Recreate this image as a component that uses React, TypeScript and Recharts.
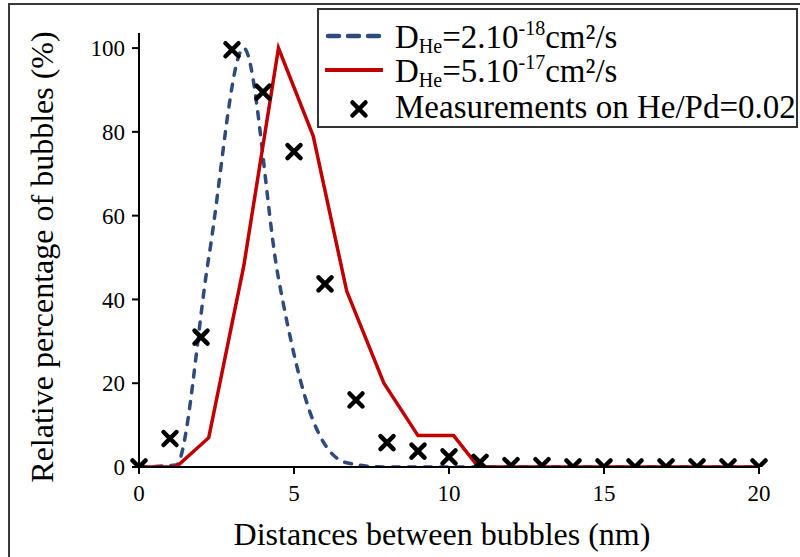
import { ComposedChart, Line, Scatter, XAxis, YAxis, Label } from "recharts"

// model curves are sampled on the same x grid
const modelX = [0, 1.2, 2.25, 3.38, 4.5, 5.62, 6.7, 7.9, 9.0, 10.15, 10.95, 20]
const slowDiff = [0, 0.5, 50, 100, 45, 11, 1, 0, 0, 0, 0, 0]
const fastDiff = [0, 0, 7, 48, 100, 79, 42, 20, 7.5, 7.5, 0, 0]

const measX = [0, 1, 2, 3, 4, 5, 6, 7, 8, 9, 10, 11, 12, 13, 14, 15, 16, 17, 18, 19, 20]
const measured = [0, 6.8, 31, 99.6, 89.5, 75.3, 43.7, 16, 5.8, 3.8, 2.4, 1.1, 0.3, 0.3, 0, 0, 0, 0, 0, 0, 0]

const xTicks = [0, 5, 10, 15, 20]
const yTicks = [0, 20, 40, 60, 80, 100]

const slowData = modelX.map((x, i) => ({ x, y: slowDiff[i] }))
const fastData = modelX.map((x, i) => ({ x, y: fastDiff[i] }))
const measData = measX.map((x, i) => ({ x, y: measured[i] }))

const BLUE = "#2f4b7c"
const RED = "#c00000"
const FONT = "Liberation Serif, DejaVu Serif, serif"

const Cross = (props: any) => {
    const { cx, cy } = props
    const s = 6.5
    return (
        <g stroke="#000" strokeWidth={4.5} strokeLinecap="round">
            <line x1={cx - s} y1={cy - s} x2={cx + s} y2={cy + s} />
            <line x1={cx - s} y1={cy + s} x2={cx + s} y2={cy - s} />
        </g>
    )
}

const XTick = (props: any) => {
    const { x, y, payload } = props
    return (
        <text x={x} y={y} dy="0.71em" textAnchor="middle" fill="#000" style={{ fontSize: 23, fontFamily: FONT }}>
            {payload.value}
        </text>
    )
}

const YTick = (props: any) => {
    const { x, y, payload } = props
    return (
        <text x={x} y={y} dy="0.355em" textAnchor="end" fill="#000" style={{ fontSize: 23, fontFamily: FONT }}>
            {payload.value}
        </text>
    )
}

const YTitle = () => (
    <text x={53} y={257} transform="rotate(-90, 53, 257)" textAnchor="middle" fill="#000" style={{ fontSize: 32, fontFamily: FONT }}>
        Relative percentage of bubbles (%)
    </text>
)

const XTitle = () => (
    <text x={442} y={545} textAnchor="middle" fill="#000" style={{ fontSize: 32, fontFamily: FONT }}>
        Distances between bubbles (nm)
    </text>
)

const ChartLegend = () => (
    <div style={{ position: "absolute", left: 317, top: 8, width: 477, height: 116, border: "2px solid #333", background: "#fff" }}>
        <svg width={477} height={116} style={{ display: "block", fontFamily: FONT }}>
            <line x1={9} y1={26} x2={61} y2={26} stroke={BLUE} strokeWidth={4.5} strokeDasharray="11 9" strokeLinecap="round" />
            <line x1={6} y1={60} x2={64} y2={60} stroke={RED} strokeWidth={4} />
            <Cross cx={40} cy={99} />
            <text x={76} y={38} fill="#000" style={{ fontSize: 33 }}>
                D<tspan style={{ fontSize: 20 }} dy={5}>He</tspan><tspan dy={-5}>=2.10</tspan><tspan style={{ fontSize: 20 }} dy={-13}>-18</tspan><tspan dy={13}>cm²/s</tspan>
            </text>
            <text x={76} y={72} fill="#000" style={{ fontSize: 33 }}>
                D<tspan style={{ fontSize: 20 }} dy={5}>He</tspan><tspan dy={-5}>=5.10</tspan><tspan style={{ fontSize: 20 }} dy={-13}>-17</tspan><tspan dy={13}>cm²/s</tspan>
            </text>
            <text x={76} y={108} fill="#000" style={{ fontSize: 33 }}>Measurements on He/Pd=0.02</text>
        </svg>
    </div>
)

const App = () => {
    return (
        <div style={{ position: "fixed", left: 0, top: 0, width: 800, height: 557, overflow: "hidden", background: "#fff", fontFamily: FONT }}>
            <div style={{ position: "absolute", left: 8, top: 3, width: 820, height: 600, borderLeft: "2px solid #3a3a3a", borderTop: "2px solid #3a3a3a" }} />
            <ComposedChart width={800} height={557} margin={{ top: 33, right: 41, bottom: 0, left: 0 }} style={{ position: "absolute", left: 0, top: 0, fontFamily: FONT }}>
                <XAxis
                    type="number"
                    dataKey="x"
                    domain={[0, 20]}
                    ticks={xTicks}
                    height={90}
                    tickSize={7}
                    tickMargin={11}
                    axisLine={{ stroke: "#000", strokeWidth: 2 }}
                    tickLine={{ stroke: "#000", strokeWidth: 2 }}
                    tick={<XTick />}
                >
                    <Label content={XTitle} />
                </XAxis>
                <YAxis
                    type="number"
                    dataKey="y"
                    domain={[0, 103.6]}
                    ticks={yTicks}
                    width={139}
                    tickSize={7}
                    tickMargin={7}
                    axisLine={{ stroke: "#000", strokeWidth: 2 }}
                    tickLine={{ stroke: "#000", strokeWidth: 2 }}
                    tick={<YTick />}
                    allowDataOverflow
                >
                    <Label content={YTitle} />
                </YAxis>
                <Line data={slowData} dataKey="y" type="monotone" stroke={BLUE} strokeWidth={3.5} strokeDasharray="7 9" strokeLinecap="round" dot={false} isAnimationActive={false} />
                <Line data={fastData} dataKey="y" type="linear" stroke={RED} strokeWidth={3.5} dot={false} isAnimationActive={false} />
                <Scatter data={measData} dataKey="y" shape={Cross} isAnimationActive={false} />
            </ComposedChart>
            <ChartLegend />
        </div>
    )
}

export default App
